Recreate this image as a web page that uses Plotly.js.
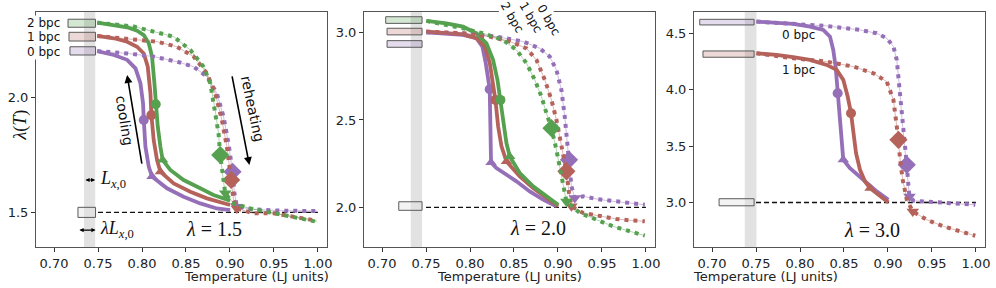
<!DOCTYPE html>
<html>
<head>
<meta charset="utf-8">
<script src="https://cdn.plot.ly/plotly-3.0.1.min.js"></script>
<style>html,body{margin:0;padding:0;background:#fff;}#chart{width:996px;height:288px;}</style>
</head>
<body>
<div id="chart"></div>
<script>
// ---------- data ----------
const X_TICKS = [0.70, 0.75, 0.80, 0.85, 0.90, 0.95, 1.00];
const LAMBDAS = [1.5, 2.0, 3.0];
const BPC_LABELS = ['0 bpc', '1 bpc', '2 bpc'];

// Panel 1 (lambda = 1.5) cooling (solid)
const p1_cool_p_T = [0.7491,0.7680,0.7831,0.7926,0.7982,0.8012,0.8020,0.8039,0.8077,0.8114,0.8284,0.8473,0.8662,0.8851,0.9002];
const p1_cool_p_L = [2.203,2.186,2.165,2.128,2.063,1.975,1.903,1.786,1.699,1.656,1.605,1.568,1.539,1.517,1.510];
const p1_cool_r_T = [0.7491,0.7680,0.7831,0.7944,0.8020,0.8065,0.8096,0.8107,0.8133,0.8171,0.8209,0.8360,0.8549,0.8738,0.9002];
const p1_cool_r_L = [2.269,2.259,2.244,2.222,2.193,2.136,2.019,1.924,1.815,1.728,1.677,1.626,1.590,1.561,1.532];
const p1_cool_g_T = [0.7491,0.7680,0.7831,0.7944,0.8020,0.8077,0.8114,0.8141,0.8156,0.8179,0.8209,0.8235,0.8322,0.8473,0.8662,0.8813,0.9002];
const p1_cool_g_L = [2.327,2.317,2.307,2.292,2.273,2.237,2.179,2.063,1.971,1.874,1.786,1.728,1.685,1.641,1.605,1.576,1.551];
// Panel 1 reheating (dotted)
const p1_heat_p_T = [0.7491,0.7831,0.8133,0.8398,0.8587,0.8738,0.8851,0.8927,0.8983,0.9029,0.9051,0.9078,0.9267,0.9607,0.9985];
const p1_heat_p_L = [2.203,2.193,2.179,2.157,2.135,2.092,2.019,1.917,1.801,1.677,1.583,1.525,1.513,1.507,1.506];
const p1_heat_r_T = [0.7491,0.7907,0.8171,0.8398,0.8587,0.8738,0.8832,0.8908,0.8965,0.9014,0.9040,0.9078,0.9267,0.9493,0.9720,0.9985];
const p1_heat_r_L = [2.269,2.254,2.244,2.222,2.179,2.106,2.019,1.903,1.786,1.641,1.554,1.517,1.496,1.496,1.481,1.464];
const p1_heat_g_T = [0.7491,0.7907,0.8133,0.8360,0.8549,0.8700,0.8776,0.8832,0.8870,0.8889,0.8919,0.8946,0.9040,0.9229,0.9418,0.9607,0.9796,0.9985];
const p1_heat_g_L = [2.327,2.310,2.288,2.266,2.208,2.135,2.063,1.946,1.844,1.750,1.656,1.583,1.539,1.517,1.503,1.488,1.474,1.459];

// Panel 2 (lambda = 2.0)
const p2_cool_p_T = [0.7504,0.7732,0.7921,0.8073,0.8141,0.8179,0.8201,0.8217,0.8224,0.8232,0.8239,0.8300,0.8414,0.8528,0.8679,0.8831,0.8982];
const p2_cool_p_L = [3.002,2.996,2.987,2.968,2.920,2.825,2.749,2.711,2.676,2.463,2.257,2.225,2.187,2.149,2.091,2.044,2.006];
const p2_cool_r_T = [0.7504,0.7732,0.7921,0.8073,0.8168,0.8225,0.8263,0.8289,0.8320,0.8358,0.8414,0.8566,0.8717,0.8869,0.9002];
const p2_cool_r_L = [3.006,3.000,2.990,2.968,2.920,2.825,2.710,2.615,2.463,2.349,2.263,2.177,2.110,2.053,2.006];
const p2_cool_g_T = [0.7504,0.7732,0.7921,0.8073,0.8187,0.8262,0.8312,0.8346,0.8376,0.8414,0.8452,0.8566,0.8717,0.8869,0.9002];
const p2_cool_g_L = [3.067,3.053,3.034,2.996,2.939,2.844,2.730,2.615,2.482,2.368,2.291,2.196,2.120,2.063,2.015];
const p2_heat_p_T = [0.7504,0.7921,0.8300,0.8603,0.8793,0.8906,0.8982,0.9039,0.9077,0.9104,0.9126,0.9153,0.9191,0.9286,0.9437,0.9627,0.9817,0.9987];
const p2_heat_p_L = [3.002,2.996,2.977,2.949,2.910,2.863,2.787,2.672,2.520,2.387,2.272,2.120,2.053,2.063,2.048,2.034,2.025,2.015];
const p2_heat_r_T = [0.7504,0.7921,0.8224,0.8452,0.8642,0.8755,0.8850,0.8926,0.8982,0.9039,0.9096,0.9126,0.9153,0.9286,0.9475,0.9665,0.9817,0.9987];
const p2_heat_r_L = [3.006,2.996,2.977,2.949,2.910,2.844,2.730,2.615,2.501,2.349,2.206,2.082,2.006,1.968,1.949,1.933,1.926,1.920];
const p2_heat_g_T = [0.7504,0.7921,0.8149,0.8376,0.8528,0.8642,0.8736,0.8812,0.8869,0.8926,0.8982,0.9039,0.9077,0.9096,0.9248,0.9437,0.9627,0.9817,0.9987];
const p2_heat_g_L = [3.067,3.025,2.996,2.958,2.901,2.825,2.730,2.634,2.539,2.453,2.330,2.177,2.082,2.034,1.968,1.930,1.891,1.863,1.838];

// Panel 3 (lambda = 3.0)
const p3_cool_p_T = [0.7505,0.7733,0.7923,0.8113,0.8265,0.8341,0.8378,0.8405,0.8428,0.8447,0.8473,0.8492,0.8568,0.8720,0.8872,0.9005];
const p3_cool_p_L = [4.607,4.598,4.586,4.562,4.533,4.473,4.355,4.207,3.970,3.763,3.527,3.379,3.305,3.201,3.098,3.024];
const p3_cool_r_T = [0.7505,0.7733,0.7923,0.8113,0.8303,0.8416,0.8492,0.8542,0.8580,0.8606,0.8637,0.8682,0.8739,0.8796,0.8910,0.9005];
const p3_cool_r_L = [4.325,4.311,4.290,4.266,4.222,4.178,4.089,3.941,3.793,3.615,3.438,3.290,3.186,3.127,3.053,3.000];
const p3_heat_p_T = [0.7505,0.7923,0.8303,0.8682,0.8872,0.8986,0.9062,0.9100,0.9131,0.9157,0.9184,0.9214,0.9233,0.9244,0.9290,0.9442,0.9632,0.9822,0.9992];
const p3_heat_p_L = [4.607,4.586,4.568,4.533,4.503,4.459,4.385,4.266,4.030,3.763,3.556,3.334,3.142,3.053,3.015,3.009,2.994,2.988,2.979];
const p3_heat_r_T = [0.7505,0.7923,0.8303,0.8606,0.8834,0.8986,0.9062,0.9092,0.9119,0.9138,0.9168,0.9214,0.9282,0.9442,0.9632,0.9822,0.9992];
const p3_heat_r_L = [4.325,4.281,4.251,4.207,4.148,4.074,3.911,3.734,3.556,3.379,3.201,3.024,2.920,2.846,2.787,2.743,2.704];

// indices of the highlighted points: cooling [circle, triangle-up], reheating [diamond, triangle-down]
const p1_marks = {cool_p:[6,9], cool_r:[7,10], cool_g:[8,11], heat_p:[9,11], heat_r:[9,11], heat_g:[9,11]};
const p2_marks = {cool_p:[8,10], cool_r:[7,10], cool_g:[7,10], heat_p:[10,12], heat_r:[10,12], heat_g:[9,13]};
const p3_marks = {cool_p:[8,11], cool_r:[8,13], heat_p:[11,13], heat_r:[8,12]};

// box glyphs (left T, right T, bottom L, top L, colour key)
const p1_box_left  = [0.7159, 0.7170, 0.7181, 0.7272];
const p1_box_right = [0.7472, 0.7472, 0.7472, 0.7472];
const p1_box_bot   = [2.307, 2.247, 2.186, 1.478];
const p1_box_top   = [2.342, 2.285, 2.222, 1.522];
const p1_box_key   = ['g', 'r', 'p', 'k'];
const p2_box_left  = [0.7042, 0.7057, 0.7057, 0.7190];
const p2_box_right = [0.7455, 0.7455, 0.7455, 0.7455];
const p2_box_bot   = [3.053, 2.987, 2.916, 1.983];
const p2_box_top   = [3.091, 3.025, 2.954, 2.032];
const p2_box_key   = ['g', 'r', 'p', 'k'];
const p3_box_left  = [0.6860, 0.6897, 0.7080];
const p3_box_right = [0.7478, 0.7478, 0.7478];
const p3_box_bot   = [4.577, 4.290, 2.970];
const p3_box_top   = [4.627, 4.346, 3.033];
const p3_box_key   = ['p', 'r', 'k'];
const band_T = [[0.7340, 0.7468], [0.7326, 0.7455], [0.7372, 0.7505]];

// ---------- styling ----------
const COL = {g:'#55a14f', r:'#b5625b', p:'#9570b9', k:'#888888'};
const FILL = {g:'rgba(85,161,79,0.25)', r:'rgba(181,98,91,0.25)', p:'rgba(149,112,185,0.25)', k:'rgba(225,225,225,0.4)'};
const W = 996, H = 288;
const dom = {
  x: [[36/W, 327/W], [364/W, 655/W], [694/W, 985/W]],
  y: [1 - 247/H, 1 - 12/H]
};
const yRanges = [[1.349, 2.3735], [1.773, 3.118], [2.604, 4.692]];
const yTicks = [[1.5, 2.0], [2.0, 2.5, 3.0], [3.0, 3.5, 4.0, 4.5]];

const traces = [];
function addSeries(ax, T, L, key, kind, idx) {
  const xa = 'x' + (ax === 1 ? '' : ax), ya = 'y' + (ax === 1 ? '' : ax);
  const c = COL[key];
  if (kind === 'cool') {
    traces.push({x:T, y:L, xaxis:xa, yaxis:ya, mode:'lines', line:{color:c, width:3.8, shape:'linear'}, hoverinfo:'skip'});
    traces.push({x:[T[idx[0]]], y:[L[idx[0]]], xaxis:xa, yaxis:ya, mode:'markers', marker:{symbol:'circle', size:10, color:c}, hoverinfo:'skip'});
    traces.push({x:[T[idx[1]]], y:[L[idx[1]]], xaxis:xa, yaxis:ya, mode:'markers', marker:{symbol:'triangle-up', size:10, color:c}, hoverinfo:'skip'});
  } else {
    traces.push({x:T, y:L, xaxis:xa, yaxis:ya, mode:'lines', opacity:0.45, line:{color:c, width:1}, hoverinfo:'skip'});
    traces.push({x:T, y:L, xaxis:xa, yaxis:ya, mode:'lines', line:{color:c, width:4, dash:'4px,5px'}, hoverinfo:'skip'});
    traces.push({x:[T[idx[0]]], y:[L[idx[0]]], xaxis:xa, yaxis:ya, mode:'markers', marker:{symbol:'diamond', size:14, color:c}, hoverinfo:'skip'});
    traces.push({x:[T[idx[1]]], y:[L[idx[1]]], xaxis:xa, yaxis:ya, mode:'markers', marker:{symbol:'triangle-down', size:11, color:c}, hoverinfo:'skip'});
  }
}
// reference dashed lines
LAMBDAS.forEach((lam, i) => {
  const s = i === 0 ? '' : String(i + 1);
  traces.push({x:[X_TICKS[1], X_TICKS[6]], y:[lam, lam], xaxis:'x'+s, yaxis:'y'+s, mode:'lines',
    line:{color:'#111', width:1.4, dash:'5px,3px'}, hoverinfo:'skip'});
});
// panel 1
addSeries(1, p1_cool_p_T, p1_cool_p_L, 'p', 'cool', p1_marks.cool_p);
addSeries(1, p1_cool_r_T, p1_cool_r_L, 'r', 'cool', p1_marks.cool_r);
addSeries(1, p1_cool_g_T, p1_cool_g_L, 'g', 'cool', p1_marks.cool_g);
addSeries(1, p1_heat_p_T, p1_heat_p_L, 'p', 'heat', p1_marks.heat_p);
addSeries(1, p1_heat_r_T, p1_heat_r_L, 'r', 'heat', p1_marks.heat_r);
addSeries(1, p1_heat_g_T, p1_heat_g_L, 'g', 'heat', p1_marks.heat_g);
// panel 2
addSeries(2, p2_cool_p_T, p2_cool_p_L, 'p', 'cool', p2_marks.cool_p);
addSeries(2, p2_cool_r_T, p2_cool_r_L, 'r', 'cool', p2_marks.cool_r);
addSeries(2, p2_cool_g_T, p2_cool_g_L, 'g', 'cool', p2_marks.cool_g);
addSeries(2, p2_heat_p_T, p2_heat_p_L, 'p', 'heat', p2_marks.heat_p);
addSeries(2, p2_heat_r_T, p2_heat_r_L, 'r', 'heat', p2_marks.heat_r);
addSeries(2, p2_heat_g_T, p2_heat_g_L, 'g', 'heat', p2_marks.heat_g);
// panel 3
addSeries(3, p3_cool_p_T, p3_cool_p_L, 'p', 'cool', p3_marks.cool_p);
addSeries(3, p3_cool_r_T, p3_cool_r_L, 'r', 'cool', p3_marks.cool_r);
addSeries(3, p3_heat_p_T, p3_heat_p_L, 'p', 'heat', p3_marks.heat_p);
addSeries(3, p3_heat_r_T, p3_heat_r_L, 'r', 'heat', p3_marks.heat_r);

// shapes
const shapes = [];
band_T.forEach((b, i) => {
  const s = i === 0 ? '' : String(i + 1);
  shapes.push({type:'rect', xref:'x'+s, yref:'y'+s+' domain', x0:b[0], x1:b[1], y0:0, y1:1,
    fillcolor:'#e2e2e2', line:{width:0}, layer:'below'});
});
function addBoxes(ax, left, right, bot, top, keys) {
  const s = ax === 1 ? '' : String(ax);
  left.forEach((l, i) => {
    shapes.push({type:'rect', xref:'x'+s, yref:'y'+s, x0:l, x1:right[i], y0:bot[i], y1:top[i],
      fillcolor:FILL[keys[i]], line:{color:'#5a5a5a', width:1}, layer:'above'});
  });
}
addBoxes(1, p1_box_left, p1_box_right, p1_box_bot, p1_box_top, p1_box_key);
addBoxes(2, p2_box_left, p2_box_right, p2_box_bot, p2_box_top, p2_box_key);
addBoxes(3, p3_box_left, p3_box_right, p3_box_bot, p3_box_top, p3_box_key);

// annotations
const SANS = 'DejaVu Sans, sans-serif';
const SERIF = 'Liberation Serif, DejaVu Serif, serif';
const ann = [];
function txt(s, x, y, text, opts) {
  return Object.assign({xref:'x'+s, yref:'y'+s, x:x, y:y, text:text, showarrow:false,
    font:{family:SANS, size:12, color:'#111'}}, opts || {});
}
// panel 1 labels
ann.push(txt('', 0.7076, 2.324, BPC_LABELS[2], {xanchor:'right', bgcolor:'#fff', borderpad:0}));
ann.push(txt('', 0.7076, 2.266, BPC_LABELS[1], {xanchor:'right', bgcolor:'#fff', borderpad:0}));
ann.push(txt('', 0.7076, 2.201, BPC_LABELS[0], {xanchor:'right', bgcolor:'#fff', borderpad:0}));
ann.push(txt('', 0.7801, 1.903, 'cooling', {textangle:81, font:{family:SANS, size:14, color:'#111'}}));
ann.push(txt('', 0.9252, 1.953, 'reheating', {textangle:78, font:{family:SANS, size:14, color:'#111'}}));
ann.push({xref:'x', yref:'y', axref:'x', ayref:'y', x:0.7831, y:2.099, ax:0.8001, ay:1.706, text:'',
  showarrow:true, arrowhead:2, arrowsize:1, arrowwidth:1.6, arrowcolor:'#000', standoff:0, startstandoff:0});
ann.push({xref:'x', yref:'y', axref:'x', ayref:'y', x:0.9221, y:1.706, ax:0.9021, ay:2.099, text:'',
  showarrow:true, arrowhead:2, arrowsize:1, arrowwidth:1.6, arrowcolor:'#000', standoff:0, startstandoff:0});
ann.push({xref:'x', yref:'y', axref:'x', ayref:'y', x:0.7468, y:1.641, ax:0.7340, ay:1.641, text:'',
  showarrow:true, arrowside:'end+start', arrowhead:2, startarrowhead:2, arrowsize:0.7, startarrowsize:0.7,
  arrowwidth:1.2, arrowcolor:'#000', standoff:0, startstandoff:0});
ann.push({xref:'x', yref:'y', axref:'x', ayref:'y', x:0.7472, y:1.423, ax:0.7272, ay:1.423, text:'',
  showarrow:true, arrowside:'end+start', arrowhead:2, startarrowhead:2, arrowsize:0.7, startarrowsize:0.7,
  arrowwidth:1.2, arrowcolor:'#000', standoff:0, startstandoff:0});
ann.push(txt('', 0.7505, 1.645, '<i>L</i><sub><i>x</i>,0</sub>', {xanchor:'left', font:{family:SERIF, size:18, color:'#111'}}));
ann.push(txt('', 0.7505, 1.427, '<i>λL</i><sub><i>x</i>,0</sub>', {xanchor:'left', font:{family:SERIF, size:18, color:'#111'}}));
ann.push(txt('', 0.8813, 1.426, '<i>λ</i> = 1.5', {font:{family:SERIF, size:20, color:'#111'}}));
// panel 2 labels
ann.push(txt('2', 0.8478, 3.091, BPC_LABELS[2], {textangle:60, bgcolor:'#fff', borderpad:1}));
ann.push(txt('2', 0.8687, 3.088, BPC_LABELS[1], {textangle:60, bgcolor:'#fff', borderpad:1}));
ann.push(txt('2', 0.8895, 3.072, BPC_LABELS[0], {textangle:60, bgcolor:'#fff', borderpad:1}));
ann.push(txt('2', 0.8774, 1.882, '<i>λ</i> = 2.0', {font:{family:SERIF, size:20, color:'#111'}}));
// panel 3 labels
ann.push(txt('3', 0.7980, 4.488, BPC_LABELS[0], {}));
ann.push(txt('3', 0.7980, 4.178, BPC_LABELS[1], {}));
ann.push(txt('3', 0.8815, 2.757, '<i>λ</i> = 3.0', {font:{family:SERIF, size:20, color:'#111'}}));
// axis titles
ann.push({xref:'paper', yref:'paper', x:7/W, y:1 - 125/H, text:'<i>λ</i>(<i>T</i>)', textangle:-90, showarrow:false,
  font:{family:SERIF, size:18, color:'#111'}});
dom.x.forEach(d => {
  ann.push({xref:'paper', yref:'paper', x:(d[0] + d[1]) / 2, y:1 - 276/H, yanchor:'middle', text:'Temperature (LJ units)',
    showarrow:false, font:{family:SANS, size:13, color:'#222'}});
});

const axBase = {showline:true, mirror:true, linecolor:'#555', linewidth:1, ticks:'outside', ticklen:4, tickwidth:1,
  tickcolor:'#333', showgrid:false, zeroline:false, automargin:false, tickfont:{family:SANS, size:13, color:'#222'}};
const layout = {width:W, height:H, margin:{l:0, r:0, t:0, b:0}, paper_bgcolor:'#fff', plot_bgcolor:'#fff',
  showlegend:false, shapes:shapes, annotations:ann};
for (let i = 0; i < 3; i++) {
  const s = i === 0 ? '' : String(i + 1);
  layout['xaxis' + s] = Object.assign({}, axBase, {domain:dom.x[i], range:[0.6795, 1.0103], anchor:'y' + s,
    tickmode:'array', tickvals:X_TICKS, ticktext:X_TICKS.map(v => v.toFixed(2))});
  layout['yaxis' + s] = Object.assign({}, axBase, {domain:dom.y, range:yRanges[i], anchor:'x' + s,
    tickmode:'array', tickvals:yTicks[i], ticktext:yTicks[i].map(v => v.toFixed(1))});
}
Plotly.newPlot('chart', traces, layout, {displayModeBar:false, staticPlot:true});
</script>
</body>
</html>
